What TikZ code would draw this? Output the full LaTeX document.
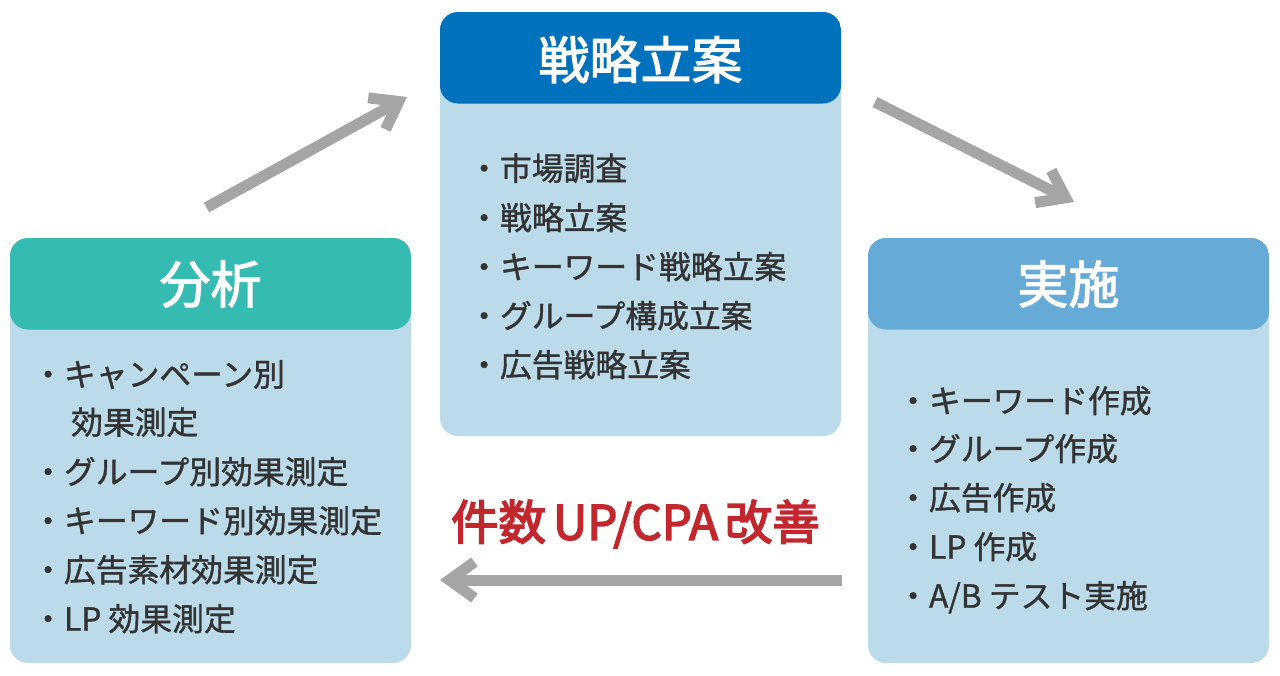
\documentclass[tikz,border=0pt]{standalone}
\usepackage{fontspec}
\setmainfont{Noto Sans CJK JP}
\newfontfamily\jpbody[FakeBold=1.2]{Noto Sans CJK JP}
\newfontfamily\jphead[FakeBold=2.2]{Noto Sans CJK JP}
\newfontfamily\jpred[FakeBold=3.2]{Noto Sans CJK JP}
\usetikzlibrary{arrows.meta}
\definecolor{topc}{HTML}{0071BC}
\definecolor{leftc}{HTML}{35BBB1}
\definecolor{rightc}{HTML}{66AAD7}
\definecolor{bodyc}{HTML}{BBDAEA}
\definecolor{arrowc}{HTML}{A5A5A5}
\definecolor{redc}{HTML}{C1272D}
\definecolor{textc}{HTML}{333333}
\begin{document}
\begin{tikzpicture}[x=1pt,y=-1pt,
  panel/.style={rectangle, rounded corners=18pt, fill=bodyc, minimum width=401pt, inner sep=0pt,
    path picture={\fill[#1] (path picture bounding box.north west) rectangle ([yshift=-91.5pt]path picture bounding box.north east);}},
  head/.style={text=white, font=\jphead\fontsize{51}{51}\selectfont, inner sep=0pt},
  item/.style={anchor=base west, text=textc, font=\jpbody\fontsize{31.8}{31.8}\selectfont, inner sep=0pt},
  result/.style={text=redc, font=\jpred\fontsize{47.5}{47.5}\selectfont, inner sep=0pt},
  flow/.style={draw=arrowc, line width=11pt, -{Straight Barb[length=25pt,width=36pt,line join=miter]}}
]
\useasboundingbox (0,0) rectangle (1280,675);

% panels
\node[panel=topc, minimum height=424pt] (plan) at (640.5,224) {};
\node[panel=leftc, minimum height=425pt] (analysis) at (210.5,450.5) {};
\node[panel=rightc, minimum height=425pt] (exec) at (1068.5,450.5) {};

% headers
\node[head] (planh) at (640.5,59.5) {戦略立案};
\node[head] (analysish) at (210.5,284) {分析};
\node[head] (exech) at (1068.5,284) {実施};

% plan items
\node[item] (p1) at (468,180.2) {・市場調査};
\node[item] (p2) at (468,229.7) {・戦略立案};
\node[item] (p3) at (468,278.7) {・キーワード戦略立案};
\node[item] (p4) at (468,327.7) {・グループ構成立案};
\node[item] (p5) at (468,376.7) {・広告戦略立案};

% analysis items
\node[item] (l1) at (32,386.2) {・キャンペーン別};
\node[item] (l1b) at (71,434.2) {効果測定};
\node[item] (l2) at (32,483.7) {・グループ別効果測定};
\node[item] (l3) at (32,532.7) {・キーワード別効果測定};
\node[item] (l4) at (32,581.7) {・広告素材効果測定};
\node[item] (l5) at (32,630.7) {・LP 効果測定};

% exec items
\node[item] (r1) at (897,412.7) {・キーワード作成};
\node[item] (r2) at (897,460.7) {・グループ作成};
\node[item] (r3) at (897,509.7) {・広告作成};
\node[item] (r4) at (897,558.7) {・LP 作成};
\node[item] (r5) at (897,607.7) {・A/B テスト実施};

% result label
\node[result] (res) at (635.5,524) {件数\kern7pt\relax UP/CPA\kern7pt\relax 改善};

% arrows
\coordinate (a1s) at (206.5,207.5);
\coordinate (a1e) at (407,97);
\coordinate (a2s) at (875,102);
\coordinate (a2e) at (1074,202);
\coordinate (a3s) at (841.5,580);
\coordinate (a3e) at (440,580);
\draw[flow] (a1s) -- (a1e);
\draw[flow] (a2s) -- (a2e);
\draw[flow] (a3s) -- (a3e);
\end{tikzpicture}
\end{document}
